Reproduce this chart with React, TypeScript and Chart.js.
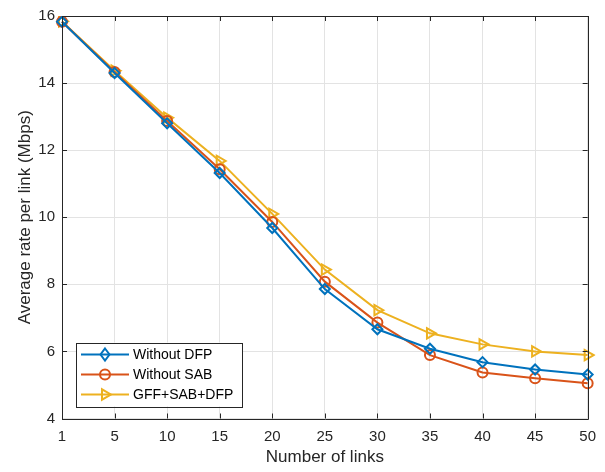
import React, { useEffect, useRef } from "react";
import { Chart, registerables } from "chart.js";

Chart.register(...registerables);

const categories = ["1", "5", "10", "15", "20", "25", "30", "35", "40", "45", "50"];
const withoutDFP = [15.83, 14.3, 12.8, 11.32, 9.68, 7.86, 6.66, 6.08, 5.68, 5.46, 5.31];
const withoutSAB = [15.83, 14.33, 12.87, 11.43, 9.86, 8.08, 6.86, 5.89, 5.37, 5.2, 5.05];
const gffSabDfp = [15.84, 14.37, 12.97, 11.68, 10.1, 8.44, 7.23, 6.54, 6.21, 6.0, 5.89];
const yTicks = [4, 6, 8, 10, 12, 14, 16];

const BLUE = "#0072BD";
const RED = "#D95319";
const YELLOW = "#EDB120";
const AX = "#262626";
const FONT = "'Liberation Sans', Arial, sans-serif";

function drawMarker(ctx: CanvasRenderingContext2D, style: string, r: number, x: number, y: number, color: string) {
  ctx.save();
  ctx.strokeStyle = color;
  ctx.fillStyle = "#ffffff";
  ctx.lineWidth = 2;
  ctx.beginPath();
  if (style === "circle") {
    ctx.arc(x, y, r, 0, Math.PI * 2);
  } else if (style === "rectRot") {
    ctx.moveTo(x, y - r);
    ctx.lineTo(x + r * 0.75, y);
    ctx.lineTo(x, y + r);
    ctx.lineTo(x - r * 0.75, y);
    ctx.closePath();
  } else {
    ctx.moveTo(x + r, y);
    ctx.lineTo(x - r * 0.5, y - r * 0.87);
    ctx.lineTo(x - r * 0.5, y + r * 0.87);
    ctx.closePath();
  }
  ctx.stroke();
  ctx.restore();
}

const frame = {
  id: "frame",
  afterDatasetsDraw(chart: any) {
    const { ctx, chartArea: a, scales } = chart;
    ctx.save();
    ctx.strokeStyle = AX;
    ctx.lineWidth = 1;
    ctx.beginPath();
    ctx.rect(Math.round(a.left) + 0.5, Math.round(a.top) + 0.5, Math.round(a.right - a.left), Math.round(a.bottom - a.top));
    ctx.stroke();
    const x = scales.x;
    const y = scales.y;
    ctx.beginPath();
    for (let i = 0; i < categories.length; i++) {
      const px = Math.round(x.getPixelForValue(i)) + 0.5;
      ctx.moveTo(px, a.bottom);
      ctx.lineTo(px, a.bottom - 5);
      ctx.moveTo(px, a.top);
      ctx.lineTo(px, a.top + 5);
    }
    for (const t of yTicks) {
      const py = Math.round(y.getPixelForValue(t)) + 0.5;
      ctx.moveTo(a.left, py);
      ctx.lineTo(a.left + 5, py);
      ctx.moveTo(a.right, py);
      ctx.lineTo(a.right - 5, py);
    }
    ctx.stroke();

    const items = [
      { label: "Without DFP", color: BLUE, style: "rectRot", r: 6 },
      { label: "Without SAB", color: RED, style: "circle", r: 5 },
      { label: "GFF+SAB+DFP", color: YELLOW, style: "triangle", r: 6 },
    ];
    const bx = a.left + 14;
    const bw = 166;
    const bh = 64;
    const by = a.bottom - 12 - bh;
    ctx.fillStyle = "#ffffff";
    ctx.fillRect(bx, by, bw, bh);
    ctx.strokeStyle = AX;
    ctx.lineWidth = 1;
    ctx.strokeRect(Math.round(bx) + 0.5, Math.round(by) + 0.5, bw, bh);
    ctx.font = `14px ${FONT}`;
    ctx.textBaseline = "middle";
    items.forEach((it, i) => {
      const cy = by + 12 + i * 20;
      ctx.strokeStyle = it.color;
      ctx.lineWidth = 2;
      ctx.beginPath();
      ctx.moveTo(bx + 5, cy);
      ctx.lineTo(bx + 53, cy);
      ctx.stroke();
      drawMarker(ctx, it.style, it.r, bx + 29, cy, it.color);
      ctx.fillStyle = "#000";
      ctx.fillText(it.label, bx + 57, cy + 1);
    });
    ctx.restore();
  },
};

export default function App() {
  const ref = useRef<HTMLCanvasElement | null>(null);
  useEffect(() => {
    if (!ref.current) return;
    const chart = new Chart(ref.current, {
      type: "line",
      data: {
        labels: categories,
        datasets: [
          {
            label: "Without DFP",
            data: withoutDFP,
            borderColor: BLUE,
            pointStyle: "rectRot",
            pointRadius: 5,
            pointBorderColor: BLUE,
            pointBackgroundColor: "rgba(0,0,0,0)",
            pointBorderWidth: 2,
            borderWidth: 2,
            tension: 0,
          },
          {
            label: "Without SAB",
            data: withoutSAB,
            borderColor: RED,
            pointStyle: "circle",
            pointRadius: 5,
            pointBorderColor: RED,
            pointBackgroundColor: "rgba(0,0,0,0)",
            pointBorderWidth: 2,
            borderWidth: 2,
            tension: 0,
          },
          {
            label: "GFF+SAB+DFP",
            data: gffSabDfp,
            borderColor: YELLOW,
            pointStyle: "triangle",
            pointRotation: 90,
            pointRadius: 6,
            pointBorderColor: YELLOW,
            pointBackgroundColor: "rgba(0,0,0,0)",
            pointBorderWidth: 2,
            borderWidth: 2,
            tension: 0,
          },
        ],
      },
      options: {
        animation: false,
        responsive: false,
        maintainAspectRatio: false,
        layout: { padding: { top: 8, right: 17, left: 0, bottom: 0 } },
        plugins: { legend: { display: false }, tooltip: { enabled: false } },
        scales: {
          x: {
            type: "category",
            offset: false,
            grid: { color: "#e3e3e3", drawTicks: false },
            border: { display: false },
            ticks: { color: AX, font: { family: FONT, size: 15 }, padding: 9, maxRotation: 0, autoSkip: false },
            title: { display: true, text: "Number of links", color: AX, font: { family: FONT, size: 17 }, padding: { top: 0, bottom: 4 } },
            afterFit(s: any) {
              s.height = 53.5;
            },
          },
          y: {
            min: 4,
            max: 16,
            afterBuildTicks(s: any) {
              s.ticks = yTicks.map((v) => ({ value: v }));
            },
            grid: { color: "#e3e3e3", drawTicks: false },
            border: { display: false },
            ticks: { color: AX, font: { family: FONT, size: 15 }, padding: 7 },
            title: { display: true, text: "Average rate per link (Mbps)", color: AX, font: { family: FONT, size: 17 }, padding: { top: 15, bottom: 0 } },
            afterFit(s: any) {
              s.width = 62;
            },
          },
        },
      },
      plugins: [frame],
    });
    return () => chart.destroy();
  }, []);
  return (
    <div style={{ position: "fixed", left: 0, top: 0, width: 605, height: 472, background: "#fff" }}>
      <canvas ref={ref} width={605} height={472} style={{ width: 605, height: 472 }} />
    </div>
  );
}
